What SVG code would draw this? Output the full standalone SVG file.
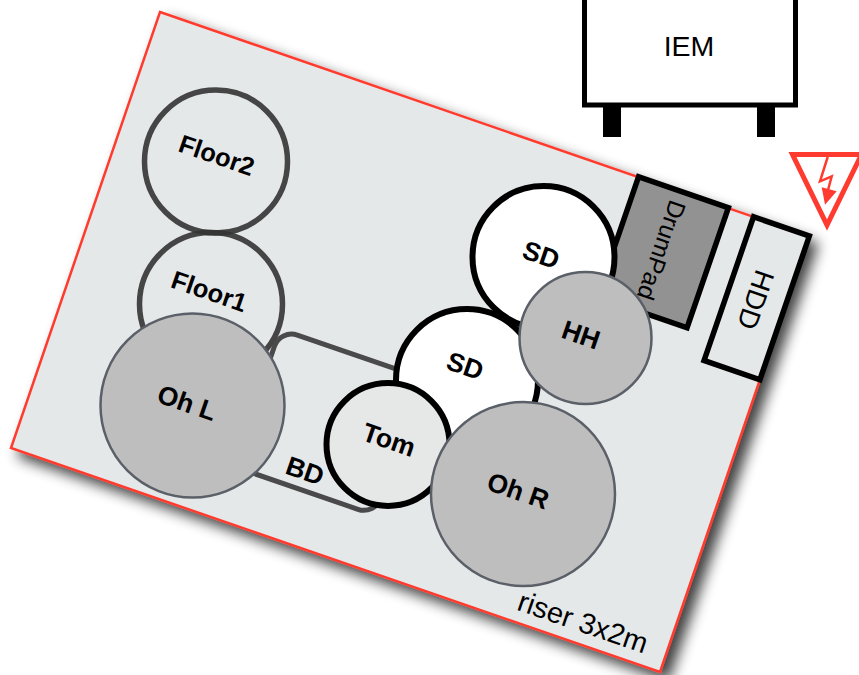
<svg xmlns="http://www.w3.org/2000/svg" width="859" height="675" viewBox="0 0 859 675">
<style>
text{font-family:"Liberation Sans",Arial,sans-serif;fill:#000;text-anchor:middle}
.b{font-weight:bold;font-size:26.5px}
.n{font-size:28px}
.ol{fill:#bebebe;stroke:#5a5f68;stroke-width:2.5}
.fl{fill:none;stroke:#333;stroke-opacity:.9;stroke-width:5.5}
.sd{fill:#fff;stroke:#000;stroke-width:6}
</style>
<defs>
<filter id="sh" x="-10%" y="-10%" width="125%" height="125%"><feGaussianBlur in="SourceAlpha" stdDeviation="7"/><feOffset dx="8" dy="8"/><feComponentTransfer><feFuncA type="linear" slope=".75"/></feComponentTransfer><feMerge><feMergeNode/><feMergeNode in="SourceGraphic"/></feMerge></filter>
</defs>
<g id="riser"><polygon points="160,12 809,236 660,672 11,448" fill="#e5e8e9" stroke="#ff3b2f" stroke-width="2.500" filter="url(#sh)"/>
<text class="n" transform="translate(583 622) rotate(19)" y="10" style="font-size:29px">riser 3x2m</text></g>
<g id="iem"><rect x="584.500" y="-20" width="211" height="125" fill="#fff" stroke="#000" stroke-width="5"/><rect x="603" y="107" width="18" height="30"/><rect x="757" y="107" width="18" height="30"/><text x="689" y="56" style="font-size:28.500px">IEM</text></g>
<g id="power"><polygon points="792.500,154.500 861.500,154.500 827,225" fill="#fff" stroke="#ff3b2f" stroke-width="5"/><polyline points="827.700,157 820,181.300 831.700,176.300 827.700,191.300" fill="none" stroke="#ff3b2f" stroke-width="2.500"/><polygon points="821.700,187.300 836.700,191.300 825,204.700" fill="#ff3b2f"/></g>
<g id="floor2"><circle class="fl" cx="216" cy="161.500" r="71.500"/><text class="b" transform="translate(216.500 156) rotate(19)" y="8" style="font-size:25.500px">Floor2</text></g>
<g id="floor1"><circle class="fl" cx="211" cy="304" r="71.500"/><text class="b" transform="translate(209 292) rotate(19)" y="8" style="font-size:25.500px">Floor1</text></g>
<g id="bd"><rect transform="translate(303 337) rotate(19)" x="-24" y="0" width="150" height="145" rx="18" fill="none" stroke="#4a4a4a" stroke-width="5"/><text class="b" transform="translate(305 471) rotate(19)" y="9">BD</text></g>
<g id="drumpad"><rect transform="translate(636.700 173) rotate(19)" x="3" y="3" width="95" height="127" fill="#929292" stroke="#000" stroke-width="5.500"/><text class="n" transform="translate(661 250) rotate(109)" y="8" style="font-size:24.500px">DrumPad</text></g>
<g id="hdd"><rect transform="translate(751.700 213) rotate(19)" x="3" y="3" width="59" height="152" fill="#e5e8e9" stroke="#000" stroke-width="5.500"/><text class="n" transform="translate(756 300) rotate(109)" y="10">HDD</text></g>
<g id="sd-top"><circle class="sd" cx="543.500" cy="257" r="71"/><text class="b" transform="translate(541 255) rotate(19)" y="9">SD</text></g>
<g id="sd-mid"><circle class="sd" cx="467" cy="380" r="71"/><text class="b" transform="translate(465 366) rotate(19)" y="9">SD</text></g>
<g id="tom"><circle cx="388" cy="444.500" r="61.500" fill="#e6e7e7" stroke="#000" stroke-width="6"/><text class="b" transform="translate(389 440) rotate(19)" y="9">Tom</text></g>
<g id="hh"><circle class="ol" cx="585.500" cy="338" r="66"/><text class="b" transform="translate(581 335) rotate(19)" y="9">HH</text></g>
<g id="ohl"><circle class="ol" cx="192.500" cy="405.500" r="92"/><text class="b" transform="translate(187 403) rotate(19)" y="9">Oh L</text></g>
<g id="ohr"><circle class="ol" cx="523" cy="494" r="92"/><text class="b" transform="translate(518 491) rotate(19)" y="9">Oh R</text></g>
</svg>
